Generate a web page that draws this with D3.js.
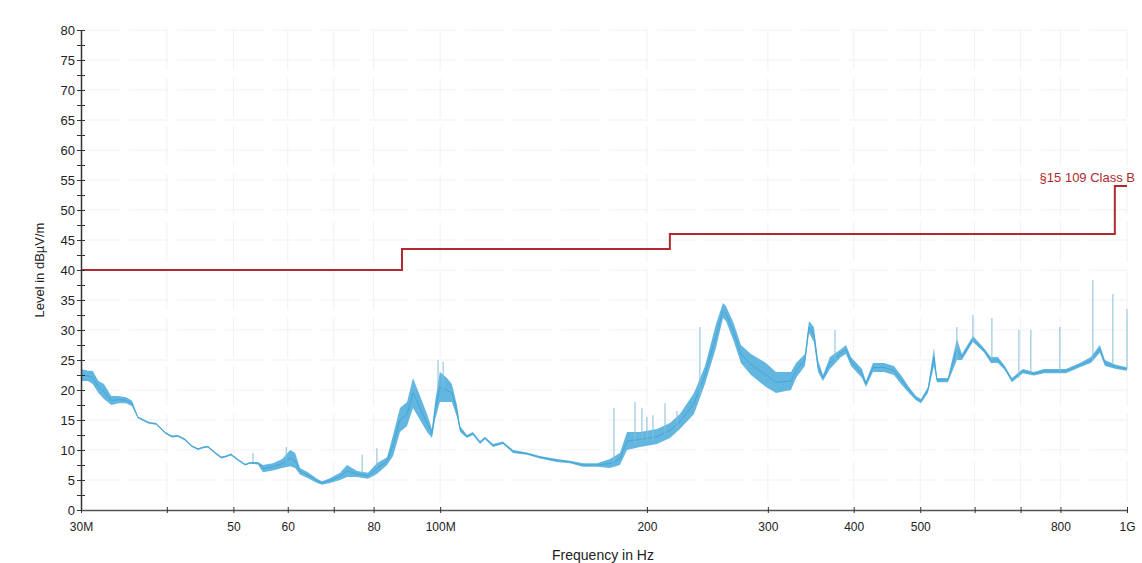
<!DOCTYPE html>
<html>
<head>
<meta charset="utf-8">
<script src="https://cdn.jsdelivr.net/npm/d3@7"></script>
<style>
    body { margin: 0; background: #fff; }
    svg { font-family: "Liberation Sans", Arial, sans-serif; }
</style>
</head>
<body>
<svg id="chart"></svg>
<script>
var freqMHz = [30.0, 30.7, 31.2, 31.8, 32.4, 33.2, 34.0, 34.9, 35.6, 36.3, 37.6, 38.6, 39.8, 40.7, 41.5, 42.5,
    43.5, 44.4, 45.2, 45.9, 46.9, 48.0, 48.8, 49.6, 50.8, 52.0, 52.9, 54.3, 55.2, 57.1, 58.9, 60.5, 61.5, 62.5,
    64.2, 66.2, 67.3, 69.1, 71.5, 73.2, 75.7, 78.5, 80.9, 83.7, 85.4, 87.4, 89.5, 91.3, 93.5, 95.7, 97.3, 98.3,
    99.9, 102.3, 104.0, 105.8, 106.9, 109.4, 111.6, 114.3, 116.2, 119.4, 123.4, 127.7, 133.8, 139.7, 147.9,
    154.5, 161.4, 169.2, 176.7, 182.7, 187.1, 195.4, 206.9, 216.1, 223.4, 234.2, 243.0, 252.1, 258.1, 260.7,
    267.8, 274.1, 283.5, 298.1, 308.3, 324.2, 329.7, 339.7, 344.3, 350.1, 354.9, 360.9, 369.4, 383.3, 389.8,
    396.4, 411.3, 416.8, 426.7, 442.7, 457.8, 468.7, 481.4, 492.9, 501.2, 513.1, 523.5, 528.8, 548.6, 565.4,
    575.0, 596.6, 619.0, 633.6, 648.7, 664.1, 679.8, 705.3, 731.8, 756.8, 785.2, 814.7, 853.8, 886.0, 913.1,
    928.6, 963.5, 1000];

var levelLo = [21.5, 21.5, 21, 19.5, 18.5, 17.5, 17.8, 17.8, 17.3, 15.3, 14.4, 14.2, 12.7, 12.1, 12.2, 11.6,
    10.5, 10, 10.3, 10.4, 9.5, 8.6, 8.8, 9.1, 8.2, 7.4, 7.7, 7.6, 6.3, 6.6, 7.0, 7.3, 7.0, 5.9,
    5.3, 4.5, 4.2, 4.5, 5.0, 5.5, 5.5, 5.2, 6.0, 7.5, 9.0, 13, 14, 17, 15, 13, 12, 15,
    18, 18, 18, 15.5, 13, 12, 12.5, 11, 11.8, 10.5, 11, 9.5, 9.2, 8.6, 8,
    7.8, 7.2, 7.2, 7, 7.5, 10, 10.5, 11, 12, 13.5, 16, 21, 27, 32, 31.5,
    28, 24.5, 22.5, 20.5, 19.5, 20, 22, 24, 29.5, 28, 23, 21.5, 23.5, 25.5, 26,
    24, 22, 20.5, 23, 23, 22.5, 21, 19.5, 18.3, 17.8, 19.5, 24, 21.3, 21.3, 25,
    25, 28, 26.3, 24.5, 24.5, 23.3, 21.3, 22.8, 22.4, 22.8, 22.8, 22.8, 23.8, 24.5, 26.2,
    24, 23.5, 23.2];

var levelHi = [23.5, 23.2, 23.2, 21.5, 21, 19, 19, 18.8, 18.2, 15.6, 14.7, 14.5, 13, 12.4, 12.5, 11.9,
    10.8, 10.3, 10.6, 10.7, 9.8, 8.9, 9.1, 9.4, 8.5, 7.7, 8.0, 8.0, 7.5, 7.8, 8.5, 10, 9.5, 7,
    6.3, 5.2, 4.8, 5.3, 6.2, 7.5, 6.5, 6.2, 7.8, 8.8, 12.5, 17, 18, 22, 19, 16, 13.5, 18,
    23, 22, 21, 17.5, 14, 12.5, 13, 11.5, 12.2, 11, 11.4, 10, 9.6, 9, 8.5,
    8.2, 7.8, 7.8, 8.5, 9.5, 13, 13, 13.5, 14.5, 16, 19.5, 24, 31, 34.5, 34,
    31, 27.5, 26, 24.5, 23, 23, 24.5, 26, 31.5, 30.5, 25, 22.5, 25.5, 26.8, 27.5,
    25.5, 23.5, 21.5, 24.5, 24.5, 24, 22.5, 20.5, 19, 18.5, 20.5, 27, 22, 22, 28.5,
    26, 29, 27, 25.5, 25.5, 24, 22, 23.5, 23, 23.5, 23.5, 23.5, 24.5, 25.5, 27.5,
    25, 24.2, 23.8];

// narrow spurs sticking out of the trace
var spikeFreq = [53.4, 59.7, 77.0, 80.9, 99.3, 101.0, 179.1, 192.2, 196.7, 200.0, 204.1, 212.5, 221.2,
    238.9, 375.7, 565.4, 596.6, 635.8, 696.0, 724.5, 798.5, 891.9, 953.8, 1000];
var spikeTop = [9.5, 10.5, 9.2, 10.3, 25, 24.7, 17, 18, 17, 15.5, 15.8, 17.8, 16.5,
    30.5, 30, 30.5, 32.5, 32, 30, 30, 30.5, 38.3, 36, 33.5];
var spikeBase = [8, 8, 6, 7, 20, 20, 8, 11, 11.5, 11.5, 11.5, 12.5, 13.5,
    19, 25, 25, 28, 25, 22, 22.5, 23, 25, 24.5, 23.5];

// FCC 15.109 class B limit, step after each edge
var limitFreq = [30, 88, 216, 960, 1000];
var limitLevel = [40, 43.5, 46, 54, 54];
var limitName = '§15 109 Class B';

var yTicks = [0, 5, 10, 15, 20, 25, 30, 35, 40, 45, 50, 55, 60, 65, 70, 75, 80];
var xTicks = [30, 40, 50, 60, 70, 80, 100, 200, 300, 400, 500, 600, 700, 800, 1000];
var xTickLabels = ['30M', '', '50', '60', '', '80', '100M', '200', '300', '400', '500', '', '', '800', '1G'];

var width = 1142,
    height = 563;

var margin = {
    top: 30,
    right: 15,
    bottom: 53,
    left: 81
};

var plotWidth = width - margin.left - margin.right,
    plotHeight = height - margin.top - margin.bottom;

var traceColor = '#45a6d6',
    bandColor = '#62b6e0',
    limitColor = '#b02a2e',
    axisColor = '#333';

var svg = d3.select('#chart')
    .attr('width', width)
    .attr('height', height);

var x = d3.scaleLog()
    .domain([30, 1000])
    .range([0, plotWidth]);

var y = d3.scaleLinear()
    .domain([0, 80])
    .range([plotHeight, 0]);

var container = svg.append('g')
    .attr('transform', 'translate(' + margin.left + ',' + margin.top + ')');

// faint grid
container.append('g')
    .attr('class', 'grid')
    .selectAll('line')
    .data(yTicks.slice(1))
    .enter().append('line')
    .attr('x1', 0)
    .attr('x2', plotWidth)
    .attr('y1', function (d) { return y(d); })
    .attr('y2', function (d) { return y(d); })
    .style('stroke', '#f1f1f1')
    .style('stroke-dasharray', '40,8');

container.append('g')
    .attr('class', 'grid')
    .selectAll('line')
    .data(xTicks.slice(1))
    .enter().append('line')
    .attr('x1', function (d) { return x(d); })
    .attr('x2', function (d) { return x(d); })
    .attr('y1', 0)
    .attr('y2', plotHeight)
    .style('stroke', '#f1f1f1')
    .style('stroke-dasharray', '40,8');

// measured trace: noise band plus centre line
var traceData = freqMHz.map(function (f, i) {
    return { f: f, lo: levelLo[i], hi: levelHi[i] };
});

var area = d3.area()
    .x(function (d) { return x(d.f); })
    .y0(function (d) { return y(d.lo); })
    .y1(function (d) { return y(d.hi); });

container.append('path')
    .datum(traceData)
    .attr('d', area)
    .style('fill', bandColor)
    .style('stroke', 'none');

container.append('path')
    .datum(traceData)
    .attr('d', d3.line()
        .x(function (d) { return x(d.f); })
        .y(function (d) { return y((d.lo + d.hi) / 2); }))
    .style('fill', 'none')
    .style('stroke', traceColor)
    .style('stroke-width', 1)
    .style('stroke-linejoin', 'round');

container.append('g')
    .attr('class', 'spikes')
    .selectAll('line')
    .data(spikeFreq)
    .enter().append('line')
    .attr('x1', function (d) { return x(d); })
    .attr('x2', function (d) { return x(d); })
    .attr('y1', function (d, i) { return y(spikeBase[i]); })
    .attr('y2', function (d, i) { return y(spikeTop[i]); })
    .style('stroke', '#84bddb')
    .style('stroke-width', 1);

// limit line
var limitData = limitFreq.map(function (f, i) {
    return [f, limitLevel[i]];
});

container.append('path')
    .datum(limitData)
    .attr('d', d3.line()
        .x(function (d) { return x(d[0]); })
        .y(function (d) { return y(d[1]); })
        .curve(d3.curveStepAfter))
    .style('fill', 'none')
    .style('stroke', limitColor)
    .style('stroke-width', 2);

container.append('text')
    .attr('x', x(1000) + 8)
    .attr('y', y(54) - 4)
    .attr('text-anchor', 'end')
    .style('font-size', '13px')
    .style('fill', limitColor)
    .text(limitName);

// axes
var yAxis = d3.axisLeft(y)
    .tickValues(d3.range(0, 80.1, 2.5))
    .tickSizeInner(0)
    .tickSizeOuter(0)
    .tickFormat(function (d) { return d % 5 === 0 ? d : ''; });

var gy = container.append('g')
    .attr('class', 'y axis')
    .call(yAxis);

gy.select('.domain').style('stroke', axisColor).style('stroke-width', 1.5);
gy.selectAll('.tick line')
    .attr('x1', -4)
    .attr('x2', 4)
    .style('stroke', axisColor);
gy.selectAll('.tick text')
    .attr('x', -6)
    .style('font-size', '13px')
    .style('fill', '#222');

var xAxis = d3.axisBottom(x)
    .tickValues(xTicks)
    .tickSizeInner(0)
    .tickSizeOuter(0)
    .tickFormat(function (d, i) { return xTickLabels[i]; });

var gx = container.append('g')
    .attr('class', 'x axis')
    .attr('transform', 'translate(0,' + plotHeight + ')')
    .call(xAxis);

gx.select('.domain').style('stroke', '#555').style('stroke-width', 1.5);
gx.selectAll('.tick line')
    .attr('y1', -3)
    .attr('y2', 3)
    .style('stroke', axisColor);
gx.selectAll('.tick text')
    .attr('y', 12)
    .style('font-size', '12px')
    .style('fill', '#222');

svg.append('text')
    .attr('transform', 'translate(44,' + (margin.top + y(40)) + ') rotate(-90)')
    .attr('text-anchor', 'middle')
    .style('font-size', '13px')
    .style('fill', '#222')
    .text('Level in dBµV/m');

svg.append('text')
    .attr('x', 603)
    .attr('y', 560)
    .attr('text-anchor', 'middle')
    .style('font-size', '14px')
    .style('fill', '#222')
    .text('Frequency in Hz');
</script>
</body>
</html>
